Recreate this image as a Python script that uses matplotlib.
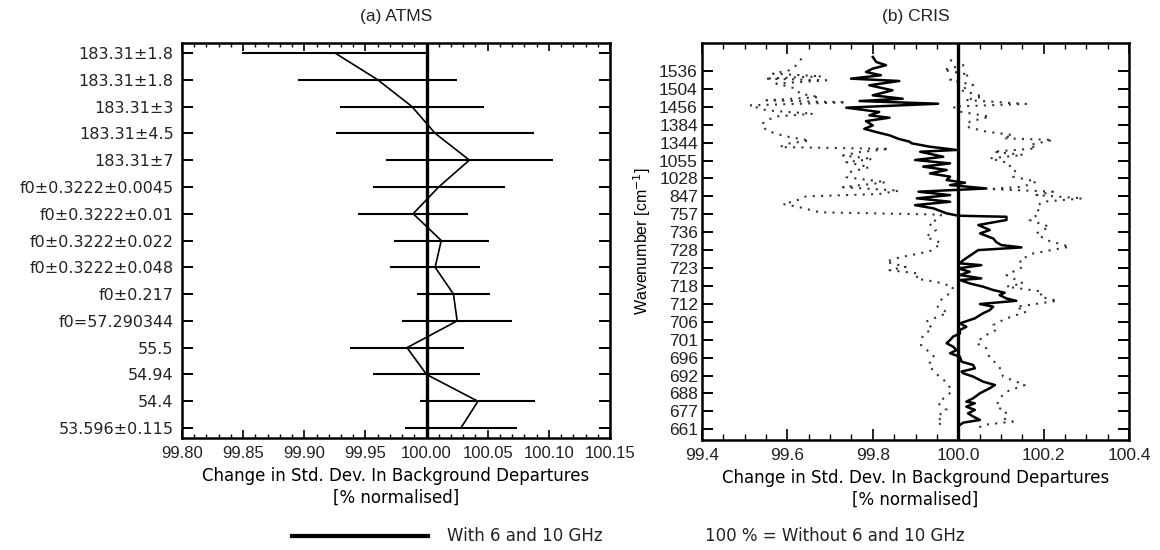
import numpy as np
import matplotlib
matplotlib.use('Agg')
import matplotlib.pyplot as plt
from matplotlib.ticker import MultipleLocator

ARIAL = 'Liberation Sans'
VERDANA = 'DejaVu Sans'
plt.rcParams['text.color'] = '#222222'
plt.rcParams['xtick.labelcolor'] = '#222222'
plt.rcParams['ytick.labelcolor'] = '#222222'

# (a) ATMS: channels top to bottom, change in std dev and its spread
atms_channels = ['183.31±1.8', '183.31±1.8', '183.31±3', '183.31±4.5', '183.31±7',
                 'f0±0.3222±0.0045', 'f0±0.3222±0.01', 'f0±0.3222±0.022', 'f0±0.3222±0.048',
                 'f0±0.217', 'f0=57.290344', '55.5', '54.94', '54.4', '53.596±0.115']
atms_change = [99.925, 99.960, 99.988, 100.007, 100.035, 100.010, 99.989, 100.012, 100.007,
               100.022, 100.025, 99.984, 100.000, 100.042, 100.028]
atms_err = [0.076, 0.065, 0.059, 0.081, 0.068, 0.054, 0.045, 0.039, 0.037,
            0.030, 0.045, 0.047, 0.044, 0.047, 0.046]

# (b) CRIS: wavenumber tick labels, bottom to top
cris_labels = ['661', '677', '688', '692', '696', '701', '706', '712', '718', '723', '728',
               '736', '757', '847', '1028', '1055', '1344', '1384', '1456', '1504', '1536']

# solid curve (channel position, change)
cris_pos = [20.78, 20.50, 20.32, 20.13, 19.94, 19.76, 19.57, 19.44, 19.20, 18.92, 18.64, 18.45,
            18.32, 18.17, 17.95, 17.71, 17.52, 17.39, 17.20, 16.96, 16.77, 16.59, 16.40, 16.21,
            16.06, 15.96, 15.77, 15.59, 15.49, 15.21, 15.03, 14.84, 14.66, 14.47, 14.28, 14.10,
            13.91, 13.76, 13.63, 13.44, 13.26, 13.07, 12.89, 12.70, 12.51, 12.33, 12.05, 11.92,
            11.86, 11.68, 11.40, 11.12, 10.93, 10.65, 10.45, 10.28, 10.15, 10.00, 9.81, 9.44,
            9.26, 9.16, 8.98, 8.79, 8.61, 8.42, 8.33, 8.14, 7.96, 7.77, 7.62, 7.49, 7.30, 7.17,
            6.99, 6.84, 6.65, 6.47, 6.19, 5.91, 5.72, 5.54, 5.35, 5.17, 4.98, 4.80, 4.61, 4.42,
            4.24, 4.05, 3.77, 3.59, 3.40, 3.22, 3.12, 2.94, 2.66, 2.47, 2.29, 2.01, 1.73, 1.54,
            1.45, 1.26, 1.08, 0.89, 0.71, 0.52, 0.37, 0.24]
cris_change = [99.800, 99.808, 99.831, 99.800, 99.784, 99.819, 99.749, 99.862, 99.792, 99.846,
               99.800, 99.870, 99.769, 99.953, 99.738, 99.815, 99.792, 99.839, 99.784, 99.800,
               99.780, 99.808, 99.840, 99.860, 99.885, 99.891, 99.934, 99.996, 99.911, 99.965,
               99.899, 99.981, 99.918, 99.973, 99.934, 99.981, 99.973, 100.016, 99.981, 100.066,
               99.907, 99.981, 99.903, 99.981, 99.899, 99.942, 99.973, 100.000, 100.113, 100.113,
               100.047, 100.074, 100.051, 100.082, 100.089, 100.101, 100.148, 100.047, 100.035,
               100.012, 100.004, 100.054, 100.000, 100.027, 100.004, 100.054, 100.004, 100.027,
               100.058, 100.082, 100.109, 100.097, 100.113, 100.136, 100.051, 100.082, 100.074,
               100.058, 100.039, 100.004, 100.019, 100.004, 100.004, 99.988, 99.981, 99.973,
               99.988, 99.996, 99.981, 100.004, 100.008, 100.035, 100.039, 100.008, 100.012,
               100.035, 100.058, 100.086, 100.074, 100.051, 100.035, 100.019, 100.039, 100.019,
               100.039, 100.023, 100.035, 100.051, 100.012, 100.004]

# dotted lower bound
cris_low_pos = [20.69, 20.32, 20.04, 19.85, 19.70, 19.57, 19.48, 19.29, 19.01, 18.73, 18.54,
                18.36, 18.25, 18.08, 17.80, 17.61, 17.46, 17.24, 17.01, 16.68, 16.49, 16.31,
                16.12, 15.93, 15.75, 15.65, 15.47, 15.28, 15.09, 14.91, 14.63, 14.35, 14.07,
                13.79, 13.51, 13.32, 13.13, 13.00, 12.76, 12.57, 12.39, 12.11, 11.98, 11.75,
                11.49, 11.12, 10.74, 10.40, 9.99, 9.81, 9.59, 9.35, 9.07, 8.88, 8.69, 8.41,
                8.23, 7.96, 7.68, 7.17, 6.84, 6.50, 6.00, 5.62, 5.25, 4.69, 4.32, 4.04, 3.60,
                3.11, 2.57, 2.10, 1.82, 1.45, 1.08, 0.71, 0.40, 0.15]
cris_low = [99.633, 99.621, 99.605, 99.566, 99.680, 99.547, 99.691, 99.574, 99.621, 99.629,
            99.675, 99.551, 99.738, 99.512, 99.551, 99.660, 99.574, 99.551, 99.539, 99.551,
            99.574, 99.605, 99.652, 99.598, 99.582, 99.839, 99.769, 99.730, 99.800, 99.738,
            99.792, 99.745, 99.738, 99.831, 99.730, 99.862, 99.815, 99.644, 99.621, 99.590,
            99.629, 99.675, 99.960, 99.955, 99.932, 99.948, 99.924, 99.960, 99.940, 99.909,
            99.862, 99.831, 99.877, 99.839, 99.909, 99.901, 99.948, 99.988, 99.985, 99.957,
            99.952, 99.975, 99.924, 99.940, 99.917, 99.913, 99.932, 99.944, 99.930, 99.948,
            99.975, 99.985, 99.970, 99.953, 99.973, 99.950, 99.965, 99.946]

# dotted upper bound
cris_high_pos = [20.61, 20.34, 20.06, 19.78, 19.50, 19.22, 18.94, 18.57, 18.38, 18.16, 18.01,
                 17.73, 17.45, 17.17, 16.89, 16.61, 16.42, 16.24, 16.15, 15.87, 15.68, 15.49,
                 15.31, 15.12, 14.84, 14.56, 14.38, 14.10, 13.82, 13.54, 13.41, 13.26, 13.07,
                 12.89, 12.70, 12.42, 12.05, 11.68, 11.30, 10.93, 10.56, 10.19, 9.81, 9.44,
                 9.07, 8.61, 8.14, 7.96, 7.68, 7.40, 7.17, 6.84, 6.56, 6.19, 5.82, 5.54, 5.17,
                 4.80, 4.52, 3.96, 3.68, 3.31, 2.94, 2.47, 2.10, 1.73, 1.26, 0.99, 0.61, 0.43,
                 0.24, 0.06]
cris_high = [99.981, 100.016, 99.965, 100.027, 99.981, 100.035, 100.004, 100.058, 100.016,
             100.159, 99.988, 100.004, 100.074, 100.027, 100.019, 100.066, 100.128, 100.105,
             100.222, 100.167, 100.183, 100.082, 100.152, 100.074, 100.121, 100.121, 100.136,
             100.128, 100.183, 100.152, 100.074, 100.222, 100.183, 100.292, 100.198, 100.183,
             100.191, 100.167, 100.214, 100.183, 100.206, 100.261, 100.175, 100.144, 100.152,
             100.113, 100.152, 100.113, 100.198, 100.191, 100.233, 100.136, 100.159, 100.113,
             100.082, 100.089, 100.058, 100.043, 100.066, 100.074, 100.089, 100.101, 100.105,
             100.156, 100.113, 100.097, 100.089, 100.113, 100.105, 100.128, 100.058, 100.047]

fig = plt.figure(figsize=(11.6, 5.5), dpi=100)

# ---- (a) ATMS ----
ax1 = fig.add_axes([182 / 1160, 1 - 438 / 550, 428 / 1160, 395 / 550])
rows = np.arange(len(atms_channels))
ax1.errorbar(atms_change, rows, xerr=atms_err, fmt='none', ecolor='black', elinewidth=1.5, capsize=0)
ax1.plot(atms_change, rows, color='black', lw=1.2)
ax1.axvline(100.0, color='black', lw=2.4)
ax1.set_xlim(99.80, 100.15)
ax1.set_ylim(len(atms_channels) - 1 + 0.37, -0.37)
ax1.set_yticks(rows)
ax1.set_yticklabels(atms_channels, family=VERDANA, fontsize=11.5)
ax1.xaxis.set_major_locator(MultipleLocator(0.05))
ax1.xaxis.set_minor_locator(MultipleLocator(0.01))
ax1.set_xticklabels([f'{v:.2f}' for v in ax1.get_xticks()], family=ARIAL, fontsize=12)
ax1.tick_params(axis='x', which='major', direction='in', top=True, length=6, width=1.2, pad=6)
ax1.tick_params(axis='x', which='minor', direction='in', top=True, length=3, width=1)
ax1.tick_params(axis='y', direction='in', right=True, length=8, width=1.4, pad=6)
ax1.set_xlabel('Change in Std. Dev. In Background Departures\n[% normalised]',
               family=VERDANA, fontsize=12, labelpad=4, linespacing=1.25)
for s in ax1.spines.values():
    s.set_linewidth(1.8)
fig.text(396 / 1160, 1 - 17 / 550, '(a) ATMS', ha='center', va='center', family=ARIAL, fontsize=12.5)

# ---- (b) CRIS ----
ax2 = fig.add_axes([702 / 1160, 1 - 440 / 550, 427 / 1160, 397 / 550])
ax2.plot(cris_low, cris_low_pos, color='#333333', lw=1.5, ls=(0, (1, 3)))
ax2.plot(cris_high, cris_high_pos, color='#333333', lw=1.5, ls=(0, (1, 3)))
ax2.plot(cris_change, cris_pos, color='black', lw=1.8)
ax2.axvline(100.0, color='black', lw=2.4)
ax2.set_xlim(99.4, 100.4)
ax2.set_ylim(-0.6, len(cris_labels) - 1 + 1.56)
ax2.set_yticks(np.arange(len(cris_labels)))
ax2.set_yticklabels(cris_labels, family=ARIAL, fontsize=12.5)
ax2.xaxis.set_major_locator(MultipleLocator(0.2))
ax2.xaxis.set_minor_locator(MultipleLocator(0.05))
ax2.set_xticklabels([f'{v:.1f}' for v in ax2.get_xticks()], family=ARIAL, fontsize=12.5)
ax2.tick_params(axis='x', which='major', direction='in', top=True, length=8, width=1.2, pad=6)
ax2.tick_params(axis='x', which='minor', direction='in', top=True, length=4, width=1)
ax2.tick_params(axis='y', direction='in', right=True, length=8, width=1.4, pad=3)
ax2.set_xlabel('Change in Std. Dev. In Background Departures\n[% normalised]',
               family=VERDANA, fontsize=12, labelpad=4, linespacing=1.25)
ax2.set_ylabel('Wavenumber [cm$^{-1}$]', family=ARIAL, fontsize=11.5, labelpad=4)
for s in ax2.spines.values():
    s.set_linewidth(1.8)
fig.text(916 / 1160, 1 - 17 / 550, '(b) CRIS', ha='center', va='center', family=ARIAL, fontsize=12.5)

# ---- legend line and notes ----
fig.lines.append(plt.Line2D([292 / 1160, 428 / 1160], [1 - 536 / 550, 1 - 536 / 550],
                            transform=fig.transFigure, color='black', lw=3))
fig.text(447 / 1160, 1 - 536 / 550, 'With 6 and 10 GHz', ha='left', va='center',
         family=VERDANA, fontsize=12)
fig.text(705 / 1160, 1 - 536 / 550, '100 % = Without 6 and 10 GHz', ha='left', va='center',
         family=VERDANA, fontsize=12)

fig.savefig('out.png', dpi=100)
